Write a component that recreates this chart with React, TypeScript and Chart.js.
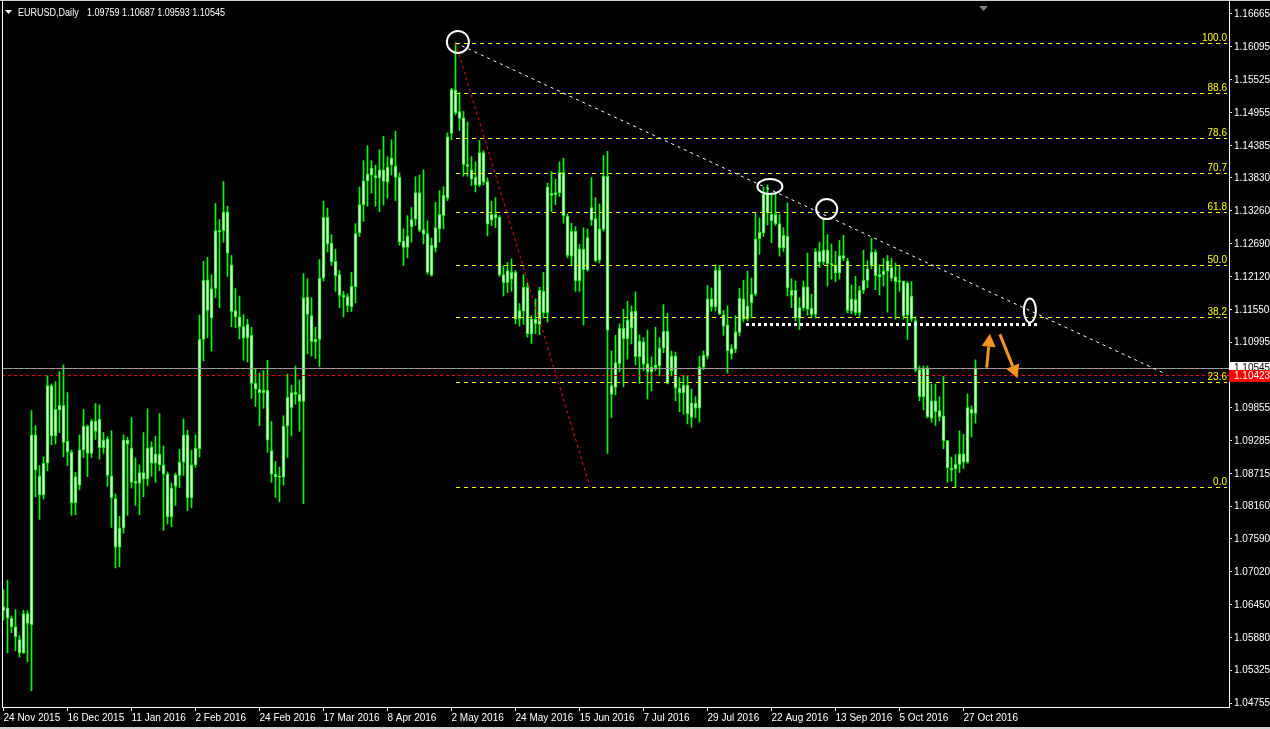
import React, { useEffect, useRef } from "react";
import { Chart, registerables } from "chart.js";

Chart.register(...registerables);

// Daily EURUSD bars, 24 Nov 2015 .. 1 Nov 2016 (one entry per trading day)
const opens = [
  1.0635, 1.0640, 1.0622, 1.0607, 1.0585, 1.0562, 1.0630, 1.0611, 1.0939, 1.0868,
  1.0835, 1.0890, 1.1024, 1.0937, 1.0982, 1.0990, 1.0928, 1.0909, 1.0822, 1.0852,
  1.0913, 1.0954, 1.0907, 1.0963, 1.0966, 1.0917, 1.0932, 1.0868, 1.0829, 1.0745,
  1.0778, 1.0930, 1.0916, 1.0859, 1.0855, 1.0874, 1.0863, 1.0918, 1.0890, 1.0906,
  1.0887, 1.0871, 1.0797, 1.0850, 1.0869, 1.0892, 1.0939, 1.0830, 1.0887, 1.0915,
  1.1104, 1.1207, 1.1141, 1.1192, 1.1292, 1.1292, 1.1324, 1.1233, 1.1154, 1.1143,
  1.1126, 1.1106, 1.1111, 1.1028, 1.1018, 1.1012, 1.1016, 1.0912, 1.0871, 1.0866,
  1.0866, 1.0954, 1.1012, 1.1009, 1.1009, 1.0997, 1.1177, 1.1145, 1.1100, 1.1104,
  1.1210, 1.1315, 1.1270, 1.1239, 1.1216, 1.1180, 1.1178, 1.1160, 1.1195, 1.1288,
  1.1337, 1.1378, 1.1388, 1.1387, 1.1383, 1.1397, 1.1376, 1.1405, 1.1404, 1.1384,
  1.1274, 1.1263, 1.1299, 1.1312, 1.1358, 1.1294, 1.1287, 1.1215, 1.1262, 1.1295,
  1.1318, 1.1348, 1.1460, 1.1535, 1.1498, 1.1487, 1.1406, 1.1397, 1.1384, 1.1371,
  1.1427, 1.1377, 1.1310, 1.1320, 1.1315, 1.1216, 1.1202, 1.1220, 1.1220, 1.1140,
  1.1153, 1.1194, 1.1113, 1.1139, 1.1130, 1.1187, 1.1150, 1.1357, 1.1354, 1.1357,
  1.1393, 1.1317, 1.1248, 1.1291, 1.1205, 1.1260, 1.1224, 1.1310, 1.1313, 1.1241,
  1.1294, 1.1386, 1.1024, 1.1021, 1.1062, 1.1123, 1.1105, 1.1124, 1.1153, 1.1074,
  1.1100, 1.1062, 1.1048, 1.1055, 1.1058, 1.1089, 1.1118, 1.1050, 1.1075, 1.1020,
  1.1012, 1.1025, 1.0969, 1.0994, 1.0985, 1.1056, 1.1075, 1.1174, 1.1160, 1.1224,
  1.1147, 1.1129, 1.1079, 1.1087, 1.1116, 1.1174, 1.1139, 1.1167, 1.1182, 1.1278,
  1.1288, 1.1355, 1.1320, 1.1304, 1.1304, 1.1262, 1.1282, 1.1189, 1.1189, 1.1141,
  1.1158, 1.1195, 1.1158, 1.1147, 1.1256, 1.1238, 1.1259, 1.1235, 1.1233, 1.1219,
  1.1249, 1.1240, 1.1153, 1.1173, 1.1150, 1.1189, 1.1206, 1.1231, 1.1255, 1.1216,
  1.1216, 1.1222, 1.1228, 1.1212, 1.1204, 1.1205, 1.1146, 1.1179, 1.1136, 1.1052,
  1.1005, 1.1054, 1.0968, 1.0998, 1.0981, 1.0972, 1.0929, 1.0881, 1.0880, 1.0888,
  1.0906, 1.0892, 1.0983, 1.09759,
];

const highs = [
  1.0671, 1.0688, 1.0626, 1.0637, 1.0592, 1.0636, 1.0635, 1.0981, 1.0955, 1.0886,
  1.0901, 1.1041, 1.1027, 1.1031, 1.1048, 1.1060, 1.1012, 1.0913, 1.0874, 1.0939,
  1.0983, 1.0956, 1.0966, 1.0993, 1.0991, 1.0943, 1.0936, 1.0946, 1.0837, 1.0798,
  1.0939, 1.0935, 1.0969, 1.0899, 1.0887, 1.0943, 1.0984, 1.0927, 1.0937, 1.0976,
  1.0920, 1.0875, 1.0856, 1.0873, 1.0914, 1.0967, 1.0947, 1.0912, 1.0939, 1.1146,
  1.1239, 1.1246, 1.1216, 1.1339, 1.1311, 1.1377, 1.1334, 1.1249, 1.1192, 1.1179,
  1.1147, 1.1139, 1.1125, 1.1053, 1.1046, 1.1050, 1.1068, 1.0962, 1.0893, 1.0883,
  1.0972, 1.1044, 1.1025, 1.1058, 1.1034, 1.1218, 1.1209, 1.1176, 1.1125, 1.1242,
  1.1343, 1.1331, 1.1285, 1.1260, 1.1223, 1.1187, 1.1183, 1.1220, 1.1304, 1.1367,
  1.1413, 1.1439, 1.1413, 1.1405, 1.1432, 1.1455, 1.1420, 1.1449, 1.1464, 1.1392,
  1.1295, 1.1318, 1.1332, 1.1385, 1.1388, 1.1397, 1.1309, 1.1279, 1.1341, 1.1361,
  1.1368, 1.1461, 1.1538, 1.1616, 1.1531, 1.1498, 1.1480, 1.1420, 1.1411, 1.1448,
  1.1430, 1.1383, 1.1343, 1.1349, 1.1318, 1.1231, 1.1237, 1.1243, 1.1223, 1.1166,
  1.1216, 1.1202, 1.1145, 1.1174, 1.1194, 1.1220, 1.1374, 1.1394, 1.1381, 1.1411,
  1.1417, 1.1321, 1.1305, 1.1299, 1.1268, 1.1297, 1.1295, 1.1384, 1.1349, 1.1338,
  1.1422, 1.1429, 1.1084, 1.1111, 1.1131, 1.1156, 1.1170, 1.1162, 1.1186, 1.1112,
  1.1107, 1.1120, 1.1074, 1.1125, 1.1107, 1.1164, 1.1149, 1.1084, 1.1082, 1.1038,
  1.1042, 1.1041, 1.1018, 1.1005, 1.1075, 1.1084, 1.1197, 1.1193, 1.1233, 1.1232,
  1.1154, 1.1162, 1.1095, 1.1145, 1.1192, 1.1206, 1.1222, 1.1210, 1.1322, 1.1314,
  1.1367, 1.1371, 1.1357, 1.1357, 1.1320, 1.1297, 1.1340, 1.1209, 1.1205, 1.1176,
  1.1205, 1.1253, 1.1182, 1.1261, 1.1272, 1.1311, 1.1285, 1.1269, 1.1256, 1.1275,
  1.1284, 1.1244, 1.1198, 1.1213, 1.1196, 1.1258, 1.1240, 1.1279, 1.1259, 1.1233,
  1.1244, 1.1249, 1.1244, 1.1236, 1.1232, 1.1205, 1.1204, 1.1204, 1.1143, 1.1058,
  1.1058, 1.1058, 1.1027, 1.1027, 1.1005, 1.1040, 1.0929, 1.0900, 1.0905, 1.0946,
  1.0940, 1.1010, 1.0989, 1.10687,
];

const lows = [
  1.0619, 1.0562, 1.0597, 1.0566, 1.0555, 1.0561, 1.0547, 1.0497, 1.0832, 1.0793,
  1.0828, 1.0877, 1.0922, 1.0923, 1.0943, 1.0901, 1.0886, 1.0800, 1.0801, 1.0844,
  1.0900, 1.0867, 1.0900, 1.0931, 1.0897, 1.0907, 1.0850, 1.0779, 1.0709, 1.0711,
  1.0769, 1.0800, 1.0847, 1.0817, 1.0801, 1.0832, 1.0851, 1.0867, 1.0857, 1.0877,
  1.0774, 1.0785, 1.0780, 1.0817, 1.0848, 1.0869, 1.0808, 1.0813, 1.0883, 1.0901,
  1.1067, 1.1107, 1.1084, 1.1176, 1.1159, 1.1272, 1.1213, 1.1126, 1.1124, 1.1105,
  1.1068, 1.1065, 1.1002, 1.0988, 1.0955, 1.0985, 1.0909, 1.0857, 1.0831, 1.0823,
  1.0852, 1.0900, 1.0937, 1.0992, 1.0945, 1.0820, 1.1079, 1.1075, 1.1071, 1.1057,
  1.1205, 1.1255, 1.1232, 1.1187, 1.1159, 1.1143, 1.1152, 1.1152, 1.1167, 1.1282,
  1.1308, 1.1334, 1.1357, 1.1334, 1.1325, 1.1336, 1.1348, 1.1388, 1.1344, 1.1267,
  1.1232, 1.1245, 1.1272, 1.1301, 1.1290, 1.1269, 1.1217, 1.1213, 1.1255, 1.1272,
  1.1295, 1.1344, 1.1449, 1.1492, 1.1465, 1.1386, 1.1386, 1.1370, 1.1359, 1.1368,
  1.1371, 1.1283, 1.1301, 1.1297, 1.1213, 1.1179, 1.1185, 1.1187, 1.1131, 1.1127,
  1.1130, 1.1108, 1.1097, 1.1114, 1.1112, 1.1141, 1.1134, 1.1325, 1.1337, 1.1351,
  1.1305, 1.1245, 1.1231, 1.1187, 1.1187, 1.1129, 1.1222, 1.1301, 1.1238, 1.1236,
  1.1291, 1.0907, 1.0969, 1.1008, 1.1048, 1.1022, 1.1070, 1.1096, 1.1060, 1.1028,
  1.1050, 1.1001, 1.1015, 1.1050, 1.1041, 1.1081, 1.1027, 1.1041, 1.0998, 1.0979,
  1.0975, 1.0958, 1.0952, 1.0969, 1.0961, 1.1052, 1.1070, 1.1153, 1.1153, 1.1147,
  1.1111, 1.1046, 1.1070, 1.1081, 1.1110, 1.1134, 1.1136, 1.1141, 1.1179, 1.1251,
  1.1282, 1.1302, 1.1271, 1.1301, 1.1248, 1.1256, 1.1179, 1.1159, 1.1136, 1.1121,
  1.1154, 1.1146, 1.1141, 1.1141, 1.1228, 1.1233, 1.1196, 1.1208, 1.1204, 1.1208,
  1.1240, 1.1150, 1.1148, 1.1146, 1.1144, 1.1183, 1.1193, 1.1226, 1.1190, 1.1181,
  1.1196, 1.1151, 1.1205, 1.1139, 1.1187, 1.1139, 1.1104, 1.1135, 1.1048, 1.0998,
  1.0982, 1.0968, 1.0961, 1.0955, 1.0963, 1.0915, 1.0857, 1.0859, 1.0848, 1.0874,
  1.0881, 1.0890, 1.0935, 1.09593,
];

const closes = [
  1.0642, 1.0622, 1.0607, 1.0590, 1.0562, 1.0630, 1.0613, 1.0939, 1.0878, 1.0835,
  1.0890, 1.1024, 1.0937, 1.0983, 1.0990, 1.0926, 1.0909, 1.0822, 1.0867, 1.0913,
  1.0954, 1.0907, 1.0963, 1.0945, 1.0917, 1.0930, 1.0869, 1.0830, 1.0745, 1.0778,
  1.0930, 1.0923, 1.0857, 1.0855, 1.0874, 1.0863, 1.0916, 1.0890, 1.0906, 1.0887,
  1.0871, 1.0797, 1.0847, 1.0870, 1.0892, 1.0939, 1.0830, 1.0887, 1.0916, 1.1104,
  1.1206, 1.1154, 1.1192, 1.1292, 1.1290, 1.1324, 1.1253, 1.1152, 1.1143, 1.1126,
  1.1106, 1.1130, 1.1028, 1.1018, 1.1012, 1.1016, 1.0930, 1.0871, 1.0866, 1.0867,
  1.0954, 1.1004, 1.0986, 1.1013, 1.0997, 1.1176, 1.1147, 1.1100, 1.1104, 1.1210,
  1.1315, 1.1269, 1.1238, 1.1214, 1.1180, 1.1177, 1.1162, 1.1196, 1.1287, 1.1337,
  1.1378, 1.1390, 1.1400, 1.1383, 1.1397, 1.1377, 1.1402, 1.1418, 1.1384, 1.1272,
  1.1263, 1.1283, 1.1311, 1.1358, 1.1293, 1.1286, 1.1220, 1.1267, 1.1297, 1.1320,
  1.1353, 1.1454, 1.1536, 1.1496, 1.1486, 1.1406, 1.1403, 1.1381, 1.1371, 1.1427,
  1.1376, 1.1303, 1.1320, 1.1314, 1.1216, 1.1202, 1.1223, 1.1208, 1.1139, 1.1154,
  1.1194, 1.1114, 1.1139, 1.1131, 1.1189, 1.1150, 1.1367, 1.1353, 1.1358, 1.1393,
  1.1318, 1.1249, 1.1291, 1.1205, 1.1260, 1.1224, 1.1280, 1.1332, 1.1240, 1.1295,
  1.1386, 1.1120, 1.1009, 1.1064, 1.1123, 1.1105, 1.1137, 1.1152, 1.1074, 1.1101,
  1.1061, 1.1048, 1.1056, 1.1060, 1.1089, 1.1118, 1.1028, 1.1075, 1.1020, 1.1012,
  1.1025, 1.0975, 1.0994, 1.0985, 1.1056, 1.1077, 1.1174, 1.1160, 1.1224, 1.1148,
  1.1127, 1.1084, 1.1088, 1.1117, 1.1175, 1.1139, 1.1162, 1.1182, 1.1278, 1.1289,
  1.1355, 1.1322, 1.1309, 1.1320, 1.1262, 1.1284, 1.1193, 1.1180, 1.1141, 1.1159,
  1.1195, 1.1156, 1.1147, 1.1256, 1.1238, 1.1259, 1.1235, 1.1233, 1.1219, 1.1249,
  1.1244, 1.1154, 1.1174, 1.1150, 1.1189, 1.1206, 1.1226, 1.1255, 1.1214, 1.1212,
  1.1222, 1.1240, 1.1210, 1.1204, 1.1205, 1.1144, 1.1202, 1.1139, 1.1051, 1.1005,
  1.1054, 1.0970, 1.0998, 1.0979, 1.0970, 1.0929, 1.0882, 1.0878, 1.0888, 1.0906,
  1.0892, 1.0986, 1.0976, 1.10545,
];

// Time axis: a date label every 16 bars
const dateLabels = [
  "24 Nov 2015", "16 Dec 2015", "11 Jan 2016", "2 Feb 2016", "24 Feb 2016",
  "17 Mar 2016", "8 Apr 2016", "2 May 2016", "24 May 2016", "15 Jun 2016",
  "7 Jul 2016", "29 Jul 2016", "22 Aug 2016", "13 Sep 2016", "5 Oct 2016",
  "27 Oct 2016",
];
const dateLabelBars = [0, 16, 32, 48, 64, 80, 96, 112, 128, 144, 160, 176, 192, 208, 224, 240];

// Price axis labels
const priceLabels = [
  1.16665, 1.16095, 1.15525, 1.14955, 1.14385, 1.1383, 1.1326, 1.1269, 1.1212,
  1.1155, 1.10995, 1.09855, 1.09285, 1.08715, 1.0816, 1.0759, 1.0702, 1.0645,
  1.0588, 1.05325, 1.04755,
];

// Fibonacci retracement drawn from the May high to the 0.0 anchor
const fibLevels = [100, 88.6, 78.6, 70.7, 61.8, 50, 38.2, 23.6, 0];
const fibHighPoint = [113, 1.16166];
const fibLowPoint = [146.6, 1.08497];
const fibRightBar = 305.9;

// Descending trend line off the May high
const trendEndPoint = [290, 1.1046];
// Support zone (thick dotted line)
const supportLine = [185.6, 259.1, 1.11313];
// Price alert level
const alertPrice = 1.10423;

// Highlight ellipses: bar, price, radiusX(px), radiusY(px)
const ellipseMarks = [
  [113.6, 1.16182, 11, 11],
  [191.6, 1.13683, 12.5, 7.5],
  [205.8, 1.13292, 10.5, 10],
  [256.6, 1.11541, 6, 12],
];
// Scenario arrows: from bar/price to bar/price
const arrowMarks = [
  [245.8, 1.10552, 246.6, 1.11138],
  [249.1, 1.11127, 253.5, 1.10369],
];

const FONT_FAMILY = "'Liberation Sans', Arial, sans-serif";
const FONT_SIZE = 10;
const CANDLE = "#00ff00";
const FIB = "#ffff00";

const mt4Objects = {
  id: "mt4Objects",
  afterDatasetsDraw(chart: any) {
    const { ctx, chartArea: a, scales } = chart;
    const xs = scales.x;
    const ys = scales.y;
    const px = (bar: number) => xs.getPixelForValue(bar);
    const py = (price: number) => ys.getPixelForValue(price);
    const snap = (v: number) => Math.round(v) + 0.5;
    const font = `${FONT_SIZE}px ${FONT_FAMILY}`;

    ctx.save();
    ctx.beginPath();
    ctx.rect(a.left, a.top, a.right - a.left, a.bottom - a.top);
    ctx.clip();

    // bid line (last close) and alert line across the whole chart
    const bid = closes[closes.length - 1];
    ctx.lineWidth = 1;
    ctx.strokeStyle = "#9a9a9a";
    ctx.setLineDash([]);
    ctx.beginPath();
    ctx.moveTo(a.left, snap(py(bid)));
    ctx.lineTo(a.right, snap(py(bid)));
    ctx.stroke();

    ctx.strokeStyle = "#ff0000";
    ctx.setLineDash([3, 3]);
    ctx.beginPath();
    ctx.moveTo(a.left, snap(py(alertPrice)));
    ctx.lineTo(a.right, snap(py(alertPrice)));
    ctx.stroke();

    // fibonacci levels
    const [fhBar, fhPrice] = fibHighPoint;
    const [flBar, flPrice] = fibLowPoint;
    ctx.font = font;
    ctx.textAlign = "right";
    ctx.textBaseline = "bottom";
    fibLevels.forEach((lvl) => {
      const price = flPrice + ((fhPrice - flPrice) * lvl) / 100;
      const yy = snap(py(price));
      ctx.strokeStyle = FIB;
      ctx.setLineDash([4, 4]);
      ctx.beginPath();
      ctx.moveTo(Math.round(px(fhBar)), yy);
      ctx.lineTo(Math.round(px(fibRightBar)), yy);
      ctx.stroke();
      ctx.fillStyle = FIB;
      ctx.fillText(lvl.toFixed(1), Math.round(px(fibRightBar)), yy - 0.5);
    });

    // fibonacci base line (red dotted)
    ctx.strokeStyle = "#ff0000";
    ctx.setLineDash([3, 3]);
    ctx.beginPath();
    ctx.moveTo(px(fhBar), py(fhPrice));
    ctx.lineTo(px(flBar), py(flPrice));
    ctx.stroke();

    // trend line (white dashed)
    ctx.strokeStyle = "#ffffff";
    ctx.setLineDash([3, 4]);
    ctx.beginPath();
    ctx.moveTo(px(fhBar), py(fhPrice));
    ctx.lineTo(px(trendEndPoint[0]), py(trendEndPoint[1]));
    ctx.stroke();

    // support (thick white dots)
    const [sFrom, sTo, sPrice] = supportLine;
    ctx.lineWidth = 3;
    ctx.setLineDash([3, 3]);
    ctx.beginPath();
    ctx.moveTo(Math.round(px(sFrom)), Math.round(py(sPrice)) + 0.5);
    ctx.lineTo(Math.round(px(sTo)), Math.round(py(sPrice)) + 0.5);
    ctx.stroke();

    // ellipses
    ctx.setLineDash([]);
    ctx.lineWidth = 2;
    ctx.strokeStyle = "#ffffff";
    ellipseMarks.forEach(([bar, price, rx, ry]) => {
      ctx.beginPath();
      ctx.ellipse(px(bar), py(price), rx, ry, 0, 0, Math.PI * 2);
      ctx.stroke();
    });

    // arrows
    ctx.strokeStyle = "#f7941d";
    ctx.fillStyle = "#f7941d";
    arrowMarks.forEach(([b0, p0, b1, p1]) => {
      const x0 = px(b0), y0 = py(p0), x1 = px(b1), y1 = py(p1);
      const ang = Math.atan2(y1 - y0, x1 - x0);
      const headLen = 13;
      const headHalf = 7;
      const bx = x1 - Math.cos(ang) * headLen;
      const by = y1 - Math.sin(ang) * headLen;
      ctx.lineWidth = 3;
      ctx.beginPath();
      ctx.moveTo(x0, y0);
      ctx.lineTo(bx, by);
      ctx.stroke();
      ctx.beginPath();
      ctx.moveTo(x1, y1);
      ctx.lineTo(bx + Math.sin(ang) * headHalf, by - Math.cos(ang) * headHalf);
      ctx.lineTo(bx - Math.sin(ang) * headHalf, by + Math.cos(ang) * headHalf);
      ctx.closePath();
      ctx.fill();
    });

    ctx.restore();

    ctx.save();
    // window edges: light strip on top and bottom, white left edge
    ctx.fillStyle = "#d0d0d0";
    ctx.fillRect(0, 0, chart.width, 1);
    ctx.fillRect(0, chart.height - 2, chart.width, 2);
    ctx.fillStyle = "#ffffff";
    ctx.fillRect(a.left, 1, 1, a.bottom - 1);
    ctx.fillRect(a.right, 1, 1, a.top);

    // chart header (narrow terminal font)
    ctx.font = `11px ${FONT_FAMILY}`;
    ctx.textAlign = "left";
    ctx.textBaseline = "middle";
    ctx.fillStyle = "#ffffff";
    ctx.beginPath();
    ctx.moveTo(5, 10);
    ctx.lineTo(12, 10);
    ctx.lineTo(8.5, 14);
    ctx.closePath();
    ctx.fill();
    const last = closes.length - 1;
    const ohlc = [opens[last], highs[last], lows[last], closes[last]].map((v) => v.toFixed(5)).join(" ");
    const title = "EURUSD,Daily";
    const squeeze = 0.82;
    ctx.save();
    ctx.translate(18, 13);
    ctx.scale(squeeze, 1);
    ctx.fillText(title, 0, 0);
    ctx.restore();
    ctx.save();
    ctx.translate(87, 13);
    ctx.scale(squeeze, 1);
    ctx.fillText(ohlc, 0, 0);
    ctx.restore();

    // chart shift marker
    ctx.fillStyle = "#808080";
    ctx.beginPath();
    ctx.moveTo(979, 6);
    ctx.lineTo(988, 6);
    ctx.lineTo(983.5, 11);
    ctx.closePath();
    ctx.fill();

    // price tags on the axis
    ctx.font = font;
    const tagX = a.right;
    const tagW = chart.width - a.right;
    const yBid = Math.round(py(bid));
    ctx.fillStyle = "#ffffff";
    ctx.fillRect(tagX, yBid - 6, tagW, 12);
    ctx.fillStyle = "#000000";
    ctx.fillText(bid.toFixed(5), tagX + 5, yBid);
    const yAlert = Math.round(py(alertPrice));
    ctx.fillStyle = "#ff0000";
    ctx.fillRect(tagX, yAlert - 5, tagW, 12);
    ctx.fillStyle = "#ffffff";
    ctx.fillText(alertPrice.toFixed(5), tagX + 5, yAlert + 1);
    ctx.restore();
  },
};

export default function App() {
  const canvasRef = useRef<HTMLCanvasElement | null>(null);

  useEffect(() => {
    const canvas = canvasRef.current;
    if (!canvas) return;
    const font = { family: FONT_FAMILY, size: FONT_SIZE };
    const bodies = opens.map((o, i) => ({ x: i, y: [o, closes[i]] }));
    const wicks = highs.map((h, i) => ({ x: i, y: [lows[i], h] }));

    const chart = new Chart(canvas, {
      type: "bar",
      data: {
        datasets: [
          {
            label: "body",
            data: bodies as any,
            barThickness: 3,
            borderWidth: 1,
            borderColor: CANDLE,
            backgroundColor: "#eaffea",
            borderSkipped: false,
            minBarLength: 1,
            grouped: false,
            order: 0,
          } as any,
          {
            label: "wick",
            data: wicks as any,
            barThickness: 1,
            borderWidth: 0,
            backgroundColor: CANDLE,
            grouped: false,
            order: 1,
          } as any,
        ],
      },
      options: {
        animation: false,
        responsive: false,
        events: [],
        layout: { padding: { left: 2, top: 6, right: 0, bottom: 0 } },
        plugins: { legend: { display: false }, tooltip: { enabled: false } },
        scales: {
          x: {
            type: "linear",
            position: "bottom",
            offset: false,
            min: -0.375,
            max: 306.375,
            afterBuildTicks: (s: any) => {
              s.ticks = dateLabelBars.map((v) => ({ value: v }));
            },
            afterFit: (s: any) => {
              s.height = 22;
            },
            ticks: {
              color: "#ffffff",
              font,
              align: "start",
              maxRotation: 0,
              minRotation: 0,
              autoSkip: false,
              padding: 1,
              callback: (_v: any, idx: number) => dateLabels[idx],
            },
            grid: { offset: false, drawOnChartArea: false, drawTicks: true, tickLength: 4, color: "#ffffff" },
            border: { display: true, color: "#ffffff" },
          },
          y: {
            type: "linear",
            position: "right",
            min: 1.04686056,
            max: 1.1676842,
            afterBuildTicks: (s: any) => {
              s.ticks = priceLabels.map((v) => ({ value: v }));
            },
            afterFit: (s: any) => {
              s.width = 41;
            },
            ticks: {
              color: "#ffffff",
              font,
              padding: 2,
              autoSkip: false,
              callback: (v: any) => Number(v).toFixed(5),
            },
            grid: { drawOnChartArea: false, drawTicks: true, tickLength: 3, color: "#ffffff" },
            border: { display: true, color: "#ffffff" },
          },
        },
      } as any,
      plugins: [mt4Objects],
    });

    return () => chart.destroy();
  }, []);

  return (
    <div style={{ position: "fixed", left: 0, top: 0, width: 1270, height: 729, background: "#000000" }}>
      <canvas ref={canvasRef} width={1270} height={729} style={{ display: "block" }} />
    </div>
  );
}
